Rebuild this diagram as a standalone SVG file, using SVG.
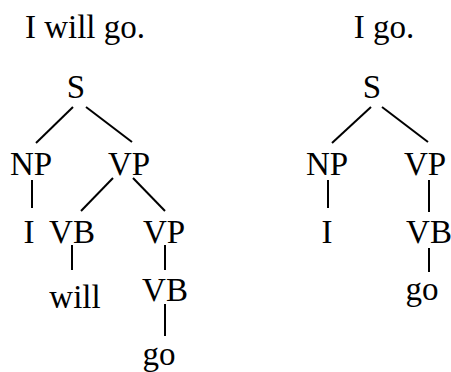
<svg xmlns="http://www.w3.org/2000/svg" width="451" height="372" viewBox="0 0 451 372">
  <style>
    text { font-family: "Liberation Serif", "Times New Roman", serif; font-size: 33px; fill: #000; text-anchor: middle; }
    .edge { stroke: #000; stroke-width: 2; fill: none; }
  </style>
  <rect width="451" height="372" fill="#fff"/>

  <!-- sentence captions -->
  <text id="caption-left" x="85" y="38">I will go.</text>
  <text id="caption-right" x="384" y="38">I go.</text>

  <!-- connectors -->
  <g id="edges">
    <!-- left tree -->
    <line class="edge" x1="73" y1="107" x2="36" y2="143"/>
    <line class="edge" x1="86" y1="107" x2="132" y2="142"/>
    <line class="edge" x1="32" y1="180" x2="32" y2="208"/>
    <line class="edge" x1="113" y1="178" x2="81" y2="211"/>
    <line class="edge" x1="133" y1="178" x2="165" y2="211"/>
    <line class="edge" x1="72" y1="245" x2="72" y2="270"/>
    <line class="edge" x1="165" y1="245" x2="165" y2="270"/>
    <line class="edge" x1="165" y1="304" x2="165" y2="336"/>
    <!-- right tree -->
    <line class="edge" x1="371" y1="107" x2="332" y2="143"/>
    <line class="edge" x1="382" y1="107" x2="428" y2="142"/>
    <line class="edge" x1="328" y1="180" x2="328" y2="208"/>
    <line class="edge" x1="429" y1="180" x2="429" y2="212"/>
    <line class="edge" x1="429" y1="248" x2="429" y2="272"/>
  </g>

  <!-- left tree nodes -->
  <g id="l-S"><text x="76" y="98">S</text></g>
  <g id="l-NP"><text x="31" y="175">NP</text></g>
  <g id="l-VP"><text x="129" y="175">VP</text></g>
  <g id="l-I"><text x="29" y="243">I</text></g>
  <g id="l-VB1"><text x="72" y="243">VB</text></g>
  <g id="l-VP2"><text x="164" y="243">VP</text></g>
  <g id="l-will"><text x="75" y="308">will</text></g>
  <g id="l-VB2"><text x="165" y="301">VB</text></g>
  <g id="l-go"><text x="159" y="365">go</text></g>

  <!-- right tree nodes -->
  <g id="r-S"><text x="372" y="98">S</text></g>
  <g id="r-NP"><text x="327" y="175">NP</text></g>
  <g id="r-VP"><text x="425" y="175">VP</text></g>
  <g id="r-I"><text x="327" y="243">I</text></g>
  <g id="r-VB"><text x="429" y="243">VB</text></g>
  <g id="r-go"><text x="422" y="300">go</text></g>
</svg>
